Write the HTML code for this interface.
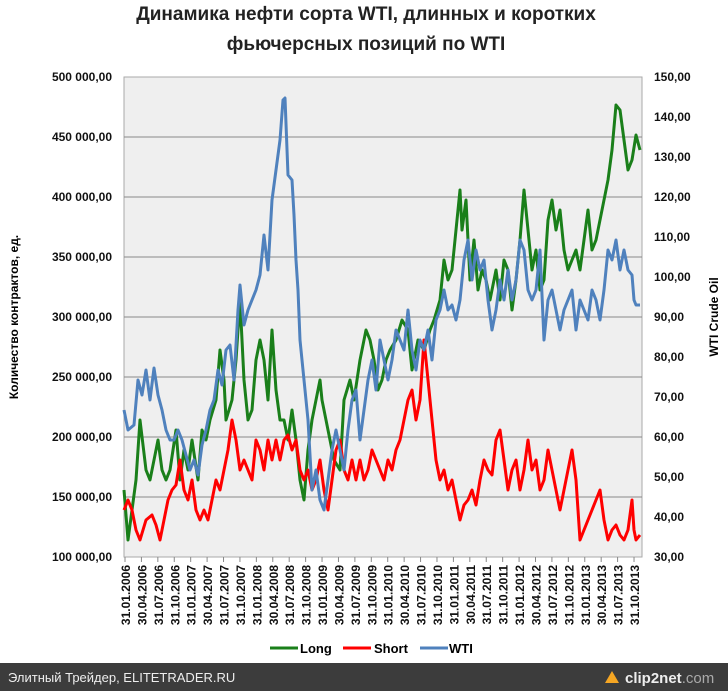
<!DOCTYPE html>
<html><head><meta charset="utf-8"><style>
body{margin:0;background:#fff;width:728px;height:691px;overflow:hidden;font-family:"Liberation Sans",sans-serif}
svg text{font-family:"Liberation Sans",sans-serif}
</style></head><body>
<svg width="728" height="691" xmlns="http://www.w3.org/2000/svg">
<text x="366" y="20" text-anchor="middle" font-size="19" font-weight="bold" fill="#222">Динамика нефти сорта WTI, длинных и коротких</text>
<text x="366" y="50" text-anchor="middle" font-size="19" font-weight="bold" fill="#222">фьючерсных позиций по WTI</text>
<rect x="124" y="77" width="518" height="480" fill="#efefef" stroke="#aaa"/>
<g stroke="#888" stroke-width="1">
<line x1="124" y1="137" x2="642" y2="137"/><line x1="124" y1="197" x2="642" y2="197"/>
<line x1="124" y1="257" x2="642" y2="257"/><line x1="124" y1="317" x2="642" y2="317"/>
<line x1="124" y1="377" x2="642" y2="377"/><line x1="124" y1="437" x2="642" y2="437"/>
<line x1="124" y1="497" x2="642" y2="497"/>
</g>
<g font-size="12" font-weight="bold" fill="#111" text-anchor="end">
<text x="112" y="81">500 000,00</text><text x="112" y="141">450 000,00</text><text x="112" y="201">400 000,00</text><text x="112" y="261">350 000,00</text><text x="112" y="321">300 000,00</text><text x="112" y="381">250 000,00</text><text x="112" y="441">200 000,00</text><text x="112" y="501">150 000,00</text><text x="112" y="561">100 000,00</text>
</g>
<g font-size="12" font-weight="bold" fill="#111">
<text x="654" y="81">150,00</text><text x="654" y="121">140,00</text><text x="654" y="161">130,00</text><text x="654" y="201">120,00</text><text x="654" y="241">110,00</text><text x="654" y="281">100,00</text><text x="654" y="321">90,00</text><text x="654" y="361">80,00</text><text x="654" y="401">70,00</text><text x="654" y="441">60,00</text><text x="654" y="481">50,00</text><text x="654" y="521">40,00</text><text x="654" y="561">30,00</text>
</g>
<text transform="translate(18,317) rotate(-90)" text-anchor="middle" font-size="12" font-weight="bold">Количество контрактов, ед.</text>
<text transform="translate(718,317) rotate(-90)" text-anchor="middle" font-size="12" font-weight="bold">WTI Crude Oil</text>
<g id="xl" font-size="12" font-weight="bold" fill="#111" text-anchor="end"></g>
<polyline fill="none" stroke="#1a7f1a" stroke-width="3" stroke-linejoin="round" points="124,490 128,540 136,480 140,420 146,470 150,480 154,460 158,440 162,470 166,480 170,470 176,430 180,480 184,450 188,470 192,440 198,480 202,430 206,440 210,420 216,400 220,350 224,380 226,420 232,400 236,360 240,300 244,380 248,420 252,410 256,360 260,340 264,360 268,400 272,330 276,390 280,420 284,420 288,440 292,410 296,440 300,480 304,500 308,450 312,420 316,400 320,380 322,400 326,420 330,440 334,460 340,470 344,400 350,380 354,400 360,360 366,330 370,340 374,360 378,390 382,380 386,360 390,350 396,340 402,320 408,330 412,370 418,340 424,350 430,330 434,320 440,300 444,260 448,280 452,270 456,230 460,190 462,230 466,200 470,280 474,240 478,290 482,270 486,280 490,300 496,270 500,300 504,260 508,270 512,310 516,280 520,240 524,190 528,230 532,270 536,250 540,290 544,280 548,220 552,200 556,230 560,210 564,250 568,270 572,260 576,250 580,270 584,240 588,210 592,250 596,240 600,220 604,200 608,180 612,150 616,105 620,110 624,140 628,170 632,160 636,135 640,150"/>
<polyline fill="none" stroke="#f00" stroke-width="3" stroke-linejoin="round" points="124,510 128,500 132,510 136,530 140,540 146,520 152,515 156,525 160,540 164,520 168,500 172,490 176,485 180,460 184,490 188,500 192,480 196,510 200,520 204,510 208,520 212,500 216,480 220,490 224,470 228,450 232,420 236,440 240,470 244,460 248,470 252,480 256,440 260,450 264,470 268,440 272,460 276,440 280,460 284,440 288,435 292,450 296,440 300,470 304,480 308,470 312,490 316,480 320,460 324,490 328,510 332,480 336,450 340,440 344,470 348,480 352,460 356,480 360,460 364,480 368,470 372,450 376,460 380,470 384,480 388,460 392,470 396,450 400,440 404,420 408,400 412,390 416,420 420,400 424,340 428,380 432,420 436,460 440,480 444,470 448,490 452,480 456,500 460,520 464,505 468,500 472,490 476,505 480,480 484,460 488,470 492,475 496,440 500,430 504,460 508,490 512,470 516,460 520,490 524,470 528,440 532,470 536,460 540,490 544,480 548,450 552,470 556,490 560,510 564,490 568,470 572,450 576,480 580,540 584,530 588,520 592,510 596,500 600,490 604,520 608,540 612,530 616,525 620,535 624,540 628,530 632,500 634,530 636,540 640,535"/>
<polyline fill="none" stroke="#4f81bd" stroke-width="3" stroke-linejoin="round" points="124,410 128,430 134,425 138,380 142,395 146,370 150,400 154,368 158,395 162,410 166,430 170,440 174,440 178,430 182,440 186,455 190,470 194,460 198,475 202,445 206,430 210,410 214,400 218,370 222,385 226,350 230,345 234,380 238,310 240,285 244,325 248,310 252,300 256,290 260,275 264,235 268,270 272,200 276,170 280,140 283,100 285,98 288,175 292,180 294,215 296,260 298,290 300,340 304,380 308,420 312,490 316,470 320,500 324,510 328,480 332,450 336,430 340,450 344,470 348,430 352,400 356,390 360,440 364,410 368,380 372,360 376,390 380,340 384,360 388,380 392,360 396,330 400,340 404,350 408,310 412,350 416,370 420,340 424,350 428,330 432,360 436,320 440,310 444,290 448,310 452,305 456,320 460,300 464,260 468,240 472,280 476,250 480,270 484,260 488,300 492,330 496,310 500,280 504,300 508,270 512,300 516,280 520,240 524,250 528,290 532,300 536,290 540,250 544,340 548,300 552,290 556,310 560,330 564,310 568,300 572,290 576,330 580,300 584,310 588,320 592,290 596,300 600,320 604,290 608,250 612,260 616,240 620,270 624,250 628,270 632,275 634,300 636,305 640,305"/>
<line x1="270" y1="648" x2="298" y2="648" stroke="#1a7f1a" stroke-width="3"/><text x="300" y="653" font-size="13" font-weight="bold">Long</text>
<line x1="343" y1="648" x2="371" y2="648" stroke="#f00" stroke-width="3"/><text x="374" y="653" font-size="13" font-weight="bold">Short</text>
<line x1="420" y1="648" x2="448" y2="648" stroke="#4f81bd" stroke-width="3"/><text x="449" y="653" font-size="13" font-weight="bold">WTI</text>
<rect x="0" y="663" width="728" height="28" fill="#3c3c3c"/>
<text x="8" y="682" font-size="13" fill="#eee">Элитный Трейдер, ELITETRADER.RU</text>
<text x="625" y="683" font-size="15" font-weight="bold" fill="#eee">clip2net<tspan fill="#aaa" font-weight="normal">.com</tspan></text>
<polygon points="605,683 612,671 619,683" fill="#f5a623"/>
</svg>
<script>
var g=document.getElementById('xl'),s='';
var d=['31.01.2006','30.04.2006','31.07.2006','31.10.2006','31.01.2007','30.04.2007','31.07.2007','31.10.2007','31.01.2008','30.04.2008','31.07.2008','31.10.2008','31.01.2009','30.04.2009','31.07.2009','31.10.2009','31.01.2010','30.04.2010','31.07.2010','31.10.2010','31.01.2011','30.04.2011','31.07.2011','31.10.2011','31.01.2012','30.04.2012','31.07.2012','31.10.2012','31.01.2013','30.04.2013','31.07.2013','31.10.2013'];
for(var i=0;i<32;i++){var x=125+i*16.42;s+='<line x1="'+x+'" y1="557" x2="'+x+'" y2="562" stroke="#888"/><text transform="translate('+(x+5)+',565) rotate(-90)">'+d[i]+'</text>';}
g.innerHTML=s;
</script>
</body></html>
